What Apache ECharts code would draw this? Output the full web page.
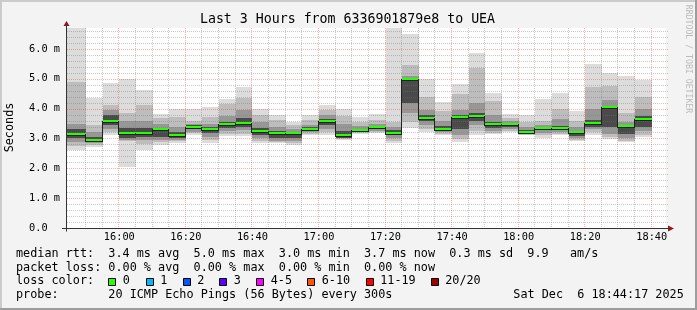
<!DOCTYPE html>
<html><head><meta charset="utf-8">
<script src="https://cdn.jsdelivr.net/npm/echarts@6/dist/echarts.min.js"></script>
<style>html,body{margin:0;padding:0;background:#f3f3f3}#c{width:697px;height:310px}</style>
</head><body><div id="c"></div>
<script>
// ---------- data ----------
const windowStart = '15:44:17';
const windowEnd   = '18:44:17';
const bucketEnd = ['15:50','15:55','16:00','16:05','16:10','16:15','16:20','16:25','16:30','16:35',
  '16:40','16:45','16:50','16:55','17:00','17:05','17:10','17:15','17:20','17:25',
  '17:30','17:35','17:40','17:45','17:50','17:55','18:00','18:05','18:10','18:15',
  '18:20','18:25','18:30','18:35','18:40'];
// median RTT (ms)
const medianRtt = [3.15,2.96,3.57,3.17,3.17,3.32,3.10,3.40,3.30,3.47,3.52,3.26,3.17,3.17,3.33,3.57,3.11,3.29,3.37,3.19,
  4.99,3.70,3.33,3.71,3.75,3.47,3.47,3.23,3.36,3.36,3.20,3.52,4.05,3.43,3.66];
// smoke: ping distribution per bucket (ms), outer -> inner
const pingMax = [6.70,4.35,4.87,5.00,4.63,3.82,3.99,3.99,4.04,4.33,4.71,3.99,3.79,3.55,3.79,4.13,3.99,3.72,3.82,6.72,
  6.51,4.99,4.22,4.82,5.86,4.52,3.82,3.77,4.33,4.53,3.93,5.49,5.18,5.08,4.97];
const pingHi1 = [4.90,3.46,4.13,3.86,4.13,3.68,3.72,3.60,3.72,4.15,4.35,3.80,3.62,3.45,3.62,3.96,3.75,3.55,3.62,3.55,
  5.45,4.40,3.93,4.50,5.35,4.25,3.70,3.55,3.57,4.00,3.60,4.74,4.75,3.85,4.40];
const pingHi2 = [3.50,3.23,3.96,3.60,3.60,3.50,3.40,3.50,3.50,3.75,3.95,3.55,3.40,3.30,3.45,3.80,3.50,3.42,3.48,3.40,
  5.10,3.95,3.60,3.95,4.20,3.80,3.58,3.40,3.45,3.65,3.40,4.00,4.30,3.55,4.00];
const pingHi3 = [3.30,3.06,3.80,3.35,3.35,3.32,3.22,3.45,3.38,3.55,3.70,3.35,3.25,3.20,3.38,3.65,3.25,3.33,3.40,3.28,
  5.02,3.78,3.42,3.80,3.85,3.55,3.50,3.28,3.40,3.42,3.25,3.62,4.10,3.45,3.75];
const pingLo3 = [3.00,2.90,3.45,3.00,3.05,3.05,3.00,3.30,3.18,3.35,3.40,3.10,3.00,3.00,3.25,3.45,3.03,3.24,3.30,3.10,
  4.20,3.60,3.25,3.30,3.60,3.35,3.40,3.17,3.28,3.28,3.08,3.40,3.40,3.15,3.40];
const pingLo2 = [2.88,2.85,3.30,2.95,2.95,2.95,2.95,3.22,3.05,3.25,3.28,3.00,2.92,2.90,3.20,3.30,3.00,3.20,3.25,3.02,
  3.85,3.45,3.20,3.10,3.45,3.25,3.32,3.14,3.18,3.22,3.00,3.30,3.15,3.00,3.25];
const pingLo1 = [2.75,2.78,3.20,2.90,2.80,2.88,2.90,3.17,2.95,3.15,3.15,2.92,2.88,2.84,3.16,3.20,2.97,3.17,3.21,2.92,
  3.55,3.30,3.15,2.98,3.25,3.18,3.26,3.12,3.10,3.16,2.95,3.20,3.05,2.93,3.12];
const pingMin = [2.62,2.70,3.12,2.06,2.62,2.79,2.84,3.12,2.84,3.09,3.08,2.84,2.84,2.79,3.12,3.12,2.95,3.14,3.18,2.84,
  3.35,3.20,3.12,2.87,3.12,3.14,3.21,3.10,3.03,3.12,2.90,3.12,2.99,2.87,3.04];
// lost pings per bucket (of 20)
const lostPings = [0,0,0,0,0,0,0,0,0,0,0,0,0,0,0,0,0,0,0,0,0,0,0,0,0,0,0,0,0,0,0,0,0,0,0];

const xTickLabels = ['16:00','16:20','16:40','17:00','17:20','17:40','18:00','18:20','18:40'];
const yTickLabels = ['0.0','1.0 m','2.0 m','3.0 m','4.0 m','5.0 m','6.0 m'];
const yMaxValue = 6.7;

const lossLabels = ['0','1','2','3','4-5','6-10','11-19','20/20'];
const lossColors = ['#26ff00','#00b8ff','#0059ff','#5e00ff','#ff00ff','#ff5500','#ff0000','#a00000'];
const lossUpper  = [0,1,2,3,5,10,19,20];

const titleText = 'Last 3 Hours from 6336901879e8 to UEA';
const legendLines = [
  'median rtt:  3.4 ms avg  5.0 ms max  3.0 ms min  3.7 ms now  0.3 ms sd  9.9   am/s',
  'packet loss: 0.00 % avg  0.00 % max  0.00 % min  0.00 % now',
  'loss color:',
  'probe:       20 ICMP Echo Pings (56 Bytes) every 300s'
];
const stampText = 'Sat Dec  6 18:44:17 2025';

// ---------- helpers ----------
const FONT = "'DejaVu Sans Mono', monospace";
function toMin(s){ const p = s.split(':').map(Number); return p[0]*60 + p[1] + (p[2]||0)/60; }
const X_MIN = toMin(windowStart), X_MAX = toMin(windowEnd);
const xTickValues = xTickLabels.map(toMin);
function lossColor(n){ for (let i=0;i<lossUpper.length;i++) if (n <= lossUpper[i]) return lossColors[i]; return lossColors[lossColors.length-1]; }

const smokeData = bucketEnd.map((t,i)=>[
  i===0 ? X_MIN : toMin(bucketEnd[i-1]), toMin(t),
  pingMin[i], pingLo1[i], pingLo2[i], pingLo3[i], pingHi3[i], pingHi2[i], pingHi1[i], pingMax[i]]);
const medianData = bucketEnd.map((t,i)=>[
  i===0 ? X_MIN : toMin(bucketEnd[i-1]), toMin(t),
  medianRtt[i], i>0 ? medianRtt[i-1] : medianRtt[i], lostPings[i]]);

const vGridVals = []; for (let m = Math.ceil(X_MIN/5)*5 + 5; m < X_MAX; m += 5) vGridVals.push([m, 0]);
const hGridVals = []; for (let k = 1; k * 0.2 < yMaxValue; k++) hGridVals.push([X_MIN, +(k*0.2).toFixed(1)]);

const smokeColors = ['#dcdcdc','#bdbdbd','#979797','#4a4a4a'];

function renderSmoke(params, api){
  const x0 = Math.round(api.coord([api.value(0), 0])[0]);
  const x1 = Math.round(api.coord([api.value(1), 0])[0]);
  const Y = v => Math.round(api.coord([api.value(0), v])[1]);
  const children = [];
  for (let b = 0; b < 4; b++){
    const lo = api.value(2 + b), hi = api.value(9 - b);
    const yt = Y(hi), yb = Y(lo);
    children.push({type:'rect', shape:{x:x0, y:yt, width:x1-x0, height:Math.max(1, yb-yt)}, style:{fill:smokeColors[b]}});
  }
  return {type:'group', children};
}
function renderMedian(params, api){
  const xs = Math.round(api.coord([api.value(0), 0])[0]);
  const xe = Math.round(api.coord([api.value(1), 0])[0]);
  const ym = Math.round(api.coord([api.value(0), api.value(2)])[1]);
  const yp = Math.round(api.coord([api.value(0), api.value(3)])[1]);
  const c = lossColor(api.value(4));
  const ch = [];
  if (params.dataIndex > 0) ch.push({type:'line', shape:{x1:xs-0.5, y1:Math.min(yp,ym), x2:xs-0.5, y2:Math.max(yp,ym)+2}, style:{stroke:'#202020', lineWidth:1}});
  ch.push({type:'line', shape:{x1:xs, y1:ym+1.5, x2:xe, y2:ym+1.5}, style:{stroke:'#202020', lineWidth:1}});
  ch.push({type:'line', shape:{x1:xs, y1:ym, x2:xe, y2:ym}, style:{stroke:c, lineWidth:2}});
  return {type:'group', children:ch};
}
function renderVGrid(params, api){
  const cs = params.coordSys;
  const v = api.value(0);
  const x = Math.round(api.coord([v, 0])[0]) - 0.5;
  const major = Math.abs(v % 20) < 1e-6;
  return {type:'line', shape:{x1:x, y1:cs.y, x2:x, y2:cs.y+cs.height},
    style:{stroke: major ? 'rgba(255,40,40,0.38)' : 'rgba(120,120,120,0.40)', lineWidth:1, lineDash:[1,1]}};
}
function renderHGrid(params, api){
  const cs = params.coordSys;
  const v = api.value(1);
  const y = Math.round(api.coord([X_MIN, v])[1]) + 0.5;
  const major = Math.abs(v - Math.round(v)) < 1e-6;
  return {type:'line', shape:{x1:cs.x, y1:y, x2:cs.x+cs.width+2, y2:y},
    style:{stroke: major ? 'rgba(255,40,40,0.38)' : 'rgba(120,120,120,0.40)', lineWidth:1, lineDash:[1,1]}};
}
function renderAxes(params, api){
  const cs = params.coordSys;
  const x0 = cs.x - 0.5, y0 = cs.y + cs.height + 0.5, xr = cs.x + cs.width + 2;
  return {type:'group', children:[
    {type:'line', shape:{x1:cs.x-5, y1:y0, x2:xr, y2:y0}, style:{stroke:'#333', lineWidth:1}},
    {type:'line', shape:{x1:x0, y1:y0+3, x2:x0, y2:cs.y-2}, style:{stroke:'#333', lineWidth:1}},
    {type:'polygon', shape:{points:[[xr, y0-3],[xr, y0+3],[xr+6, y0]]}, style:{fill:'#8b1a1a'}},
    {type:'polygon', shape:{points:[[x0-3, cs.y-2],[x0+3, cs.y-2],[x0, cs.y-7]]}, style:{fill:'#8b1a1a'}}
  ]};
}

// ---------- graphic texts ----------
const graphics = [
  {type:'rect', shape:{x:0,y:0,width:697,height:2}, style:{fill:'#cbcbcb'}, silent:true},
  {type:'rect', shape:{x:0,y:0,width:2,height:310}, style:{fill:'#cbcbcb'}, silent:true},
  {type:'rect', shape:{x:0,y:308,width:697,height:2}, style:{fill:'#9d9d9d'}, silent:true},
  {type:'rect', shape:{x:695,y:0,width:2,height:310}, style:{fill:'#9d9d9d'}, silent:true},
  {type:'text', x:347.5, y:19.4, style:{text:titleText, font:"13.25px "+FONT, fill:'#000', align:'center', verticalAlign:'middle'}},
  {type:'text', x:10, y:127.5, rotation:Math.PI/2, style:{text:'Seconds', font:"11.8px "+FONT, fill:'#000', align:'center', verticalAlign:'middle'}},
  {type:'text', x:688, y:59, rotation:-Math.PI/2, style:{text:'RRDTOOL / TOBI OETIKER', font:"8.2px "+FONT, fill:'#bbbbbb', align:'center', verticalAlign:'middle'}},
];
const lineY = [254.2, 267.6, 281.2, 295.2];
legendLines.forEach((t,i)=>graphics.push({type:'text', x:16, y:lineY[i], style:{text:t, font:"11.8px "+FONT, fill:'#000', align:'left', verticalAlign:'middle'}}));
graphics.push({type:'text', x:513.3, y:lineY[3], style:{text:stampText, font:"11.8px "+FONT, fill:'#000', align:'left', verticalAlign:'middle'}});
const boxX = [108, 145.5, 182.5, 219, 256, 307, 365.5, 430.5];
lossLabels.forEach((l,i)=>{
  graphics.push({type:'rect', shape:{x:Math.round(boxX[i])+0.5, y:278.5, width:7, height:7}, style:{fill:lossColors[i], stroke:'#000', lineWidth:1}});
  graphics.push({type:'text', x:boxX[i]+14.7, y:lineY[2], style:{text:l, font:"11.8px "+FONT, fill:'#000', align:'left', verticalAlign:'middle'}});
});

// ---------- chart ----------
const chart = echarts.init(document.getElementById('c'), null, {renderer:'canvas'});
chart.setOption({
  animation:false,
  backgroundColor:'#f3f3f3',
  grid:{left:67, top:28, width:599, height:200, show:true, backgroundColor:'#ffffff', borderWidth:0},
  xAxis:{type:'value', min:X_MIN, max:X_MAX,
    axisLine:{show:false}, axisTick:{show:false}, splitLine:{show:false},
    axisLabel:{customValues:xTickValues, margin:4, color:'#000', fontFamily:FONT, fontSize:10.3,
      formatter:v=>{ const i = xTickValues.findIndex(t=>Math.abs(t-v)<1e-6); return i>=0 ? xTickLabels[i] : ''; }}},
  yAxis:{type:'value', min:0, max:yMaxValue, interval:1,
    axisLine:{show:false}, axisTick:{show:false}, splitLine:{show:false},
    axisLabel:{margin:7, color:'#000', fontFamily:FONT, fontSize:10.3,
      formatter:v=>{ const r = Math.round(v); if (Math.abs(v-r)>1e-6 || !yTickLabels[r]) return ''; return yTickLabels[r].padEnd(5,' '); }}},
  series:[
    {type:'custom', name:'smoke', renderItem:renderSmoke, data:smokeData, clip:true, z:1, silent:true},
    {type:'custom', name:'vgrid', renderItem:renderVGrid, data:vGridVals, clip:false, z:2, silent:true},
    {type:'custom', name:'hgrid', renderItem:renderHGrid, data:hGridVals, clip:false, z:2, silent:true},
    {type:'custom', name:'median', renderItem:renderMedian, data:medianData, clip:true, z:3, silent:true},
    {type:'custom', name:'axes', renderItem:renderAxes, data:[[X_MIN,0]], clip:false, z:4, silent:true}
  ],
  graphic:graphics
});
</script></body></html>
